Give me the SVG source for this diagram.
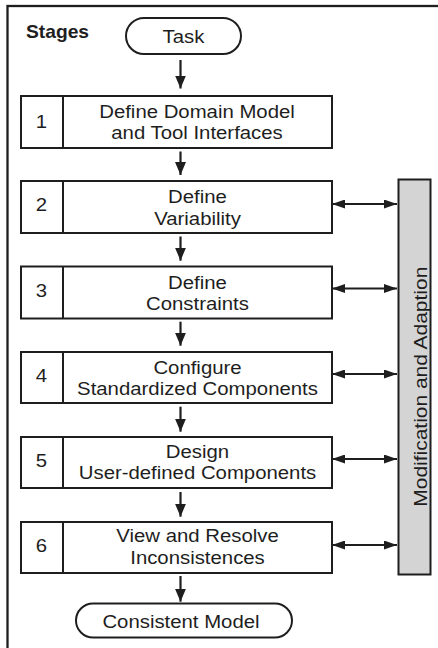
<svg xmlns="http://www.w3.org/2000/svg" width="438" height="648" viewBox="0 0 438 648">
  <defs>
    <style>
      .frame { fill: none; stroke: #1e1e1e; stroke-width: 2.3; }
      .box { fill: #ffffff; stroke: #1e1e1e; stroke-width: 2; }
      .bar { fill: #d4d4d4; stroke: #1e1e1e; stroke-width: 2; }
      .div { stroke: #1e1e1e; stroke-width: 2; }
      .t { font-family: "Liberation Sans", Arial, Helvetica, sans-serif; font-size: 18.5px; fill: #1e1e1e; text-anchor: middle; }
      .title { font-family: "Liberation Sans", Arial, Helvetica, sans-serif; font-size: 17.5px; font-weight: bold; fill: #1e1e1e; }
      .flow { stroke: #1e1e1e; stroke-width: 2.2; fill: none; marker-end: url(#down); }
      .link { stroke: #1e1e1e; stroke-width: 1.8; fill: none; marker-start: url(#side); marker-end: url(#side); }
    </style>
    <marker id="down" markerUnits="userSpaceOnUse" markerWidth="13" markerHeight="11" refX="13" refY="5.5" orient="auto">
      <path d="M0,0 L13,5.5 L0,11 z" fill="#1e1e1e"/>
    </marker>
    <marker id="side" markerUnits="userSpaceOnUse" markerWidth="13" markerHeight="9" refX="13" refY="4.5" orient="auto-start-reverse">
      <path d="M0,0 L13,4.5 L0,9 z" fill="#1e1e1e"/>
    </marker>
  </defs>

  <!-- outer frame -->
  <rect class="frame" x="7.5" y="6" width="440" height="650"/>
  <text class="title" transform="translate(26,38.3) scale(1.1,1)">Stages</text>

  <!-- start terminal -->
  <g id="task">
    <rect class="box" x="126" y="18" width="115" height="36" rx="18" ry="18"/>
    <text class="t" transform="translate(183.5,43.3) scale(1.1,1)">Task</text>
  </g>

  <!-- stage boxes -->
  <g id="stage1">
    <rect class="box" x="21" y="96" width="311" height="52"/>
    <line class="div" x1="63" y1="96" x2="63" y2="148"/>
    <text class="t" transform="translate(41.5,128.3) scale(1.1,1)">1</text>
    <text class="t" transform="translate(197,118.4) scale(1.1,1)">Define Domain Model</text>
    <text class="t" transform="translate(197,139.4) scale(1.1,1)">and Tool Interfaces</text>
  </g>

  <g id="stage2">
    <rect class="box" x="21" y="181" width="311" height="52"/>
    <line class="div" x1="63" y1="181" x2="63" y2="233"/>
    <text class="t" transform="translate(41.5,211) scale(1.1,1)">2</text>
    <text class="t" transform="translate(197.5,203.4) scale(1.1,1)">Define</text>
    <text class="t" transform="translate(197.5,225) scale(1.1,1)">Variability</text>
  </g>

  <g id="stage3">
    <rect class="box" x="21" y="266.5" width="311" height="52"/>
    <line class="div" x1="63" y1="266.5" x2="63" y2="318.5"/>
    <text class="t" transform="translate(41.5,296.5) scale(1.1,1)">3</text>
    <text class="t" transform="translate(197.5,288.6) scale(1.1,1)">Define</text>
    <text class="t" transform="translate(197.5,310.2) scale(1.1,1)">Constraints</text>
  </g>

  <g id="stage4">
    <rect class="box" x="21" y="352" width="311" height="51"/>
    <line class="div" x1="63" y1="352" x2="63" y2="403"/>
    <text class="t" transform="translate(41.5,381.7) scale(1.1,1)">4</text>
    <text class="t" transform="translate(197.5,373.6) scale(1.1,1)">Configure</text>
    <text class="t" transform="translate(197.5,395.2) scale(1.1,1)">Standardized Components</text>
  </g>

  <g id="stage5">
    <rect class="box" x="21" y="437" width="311" height="51"/>
    <line class="div" x1="63" y1="437" x2="63" y2="488"/>
    <text class="t" transform="translate(41.5,466.7) scale(1.1,1)">5</text>
    <text class="t" transform="translate(197.5,457.5) scale(1.1,1)">Design</text>
    <text class="t" transform="translate(197.5,479) scale(1.1,1)">User-defined Components</text>
  </g>

  <g id="stage6">
    <rect class="box" x="21" y="522" width="311" height="51"/>
    <line class="div" x1="63" y1="522" x2="63" y2="573"/>
    <text class="t" transform="translate(41.5,551.7) scale(1.1,1)">6</text>
    <text class="t" transform="translate(197.5,541.5) scale(1.1,1)">View and Resolve</text>
    <text class="t" transform="translate(197.5,564) scale(1.1,1)">Inconsistences</text>
  </g>

  <!-- end terminal -->
  <g id="consistent-model">
    <rect class="box" x="76" y="603.5" width="216" height="34" rx="17" ry="17"/>
    <text class="t" transform="translate(181,627.7) scale(1.1,1)">Consistent Model</text>
  </g>

  <!-- side bar -->
  <g id="modification">
    <rect class="bar" x="398.5" y="179.5" width="32" height="395"/>
    <text class="t" transform="translate(426.5,386.7) rotate(-90)" textLength="240" lengthAdjust="spacingAndGlyphs">Modification and Adaption</text>
  </g>

  <!-- connectors -->
  <g id="connectors">
    <line class="flow" x1="180.5" y1="60" x2="180.5" y2="88.5"/>
    <line class="flow" x1="180.5" y1="151.5" x2="180.5" y2="175"/>
    <line class="flow" x1="180.5" y1="236.5" x2="180.5" y2="260.7"/>
    <line class="flow" x1="180.5" y1="321.7" x2="180.5" y2="345.7"/>
    <line class="flow" x1="180.5" y1="406.7" x2="180.5" y2="431.7"/>
    <line class="flow" x1="180.5" y1="492" x2="180.5" y2="516.7"/>
    <line class="flow" x1="180.5" y1="576" x2="180.5" y2="601.7"/>

    <line class="link" x1="332" y1="204" x2="397" y2="204"/>
    <line class="link" x1="332" y1="288.5" x2="397" y2="288.5"/>
    <line class="link" x1="332" y1="374" x2="397" y2="374"/>
    <line class="link" x1="332" y1="459" x2="397" y2="459"/>
    <line class="link" x1="332" y1="545" x2="397" y2="545"/>
  </g>
</svg>
